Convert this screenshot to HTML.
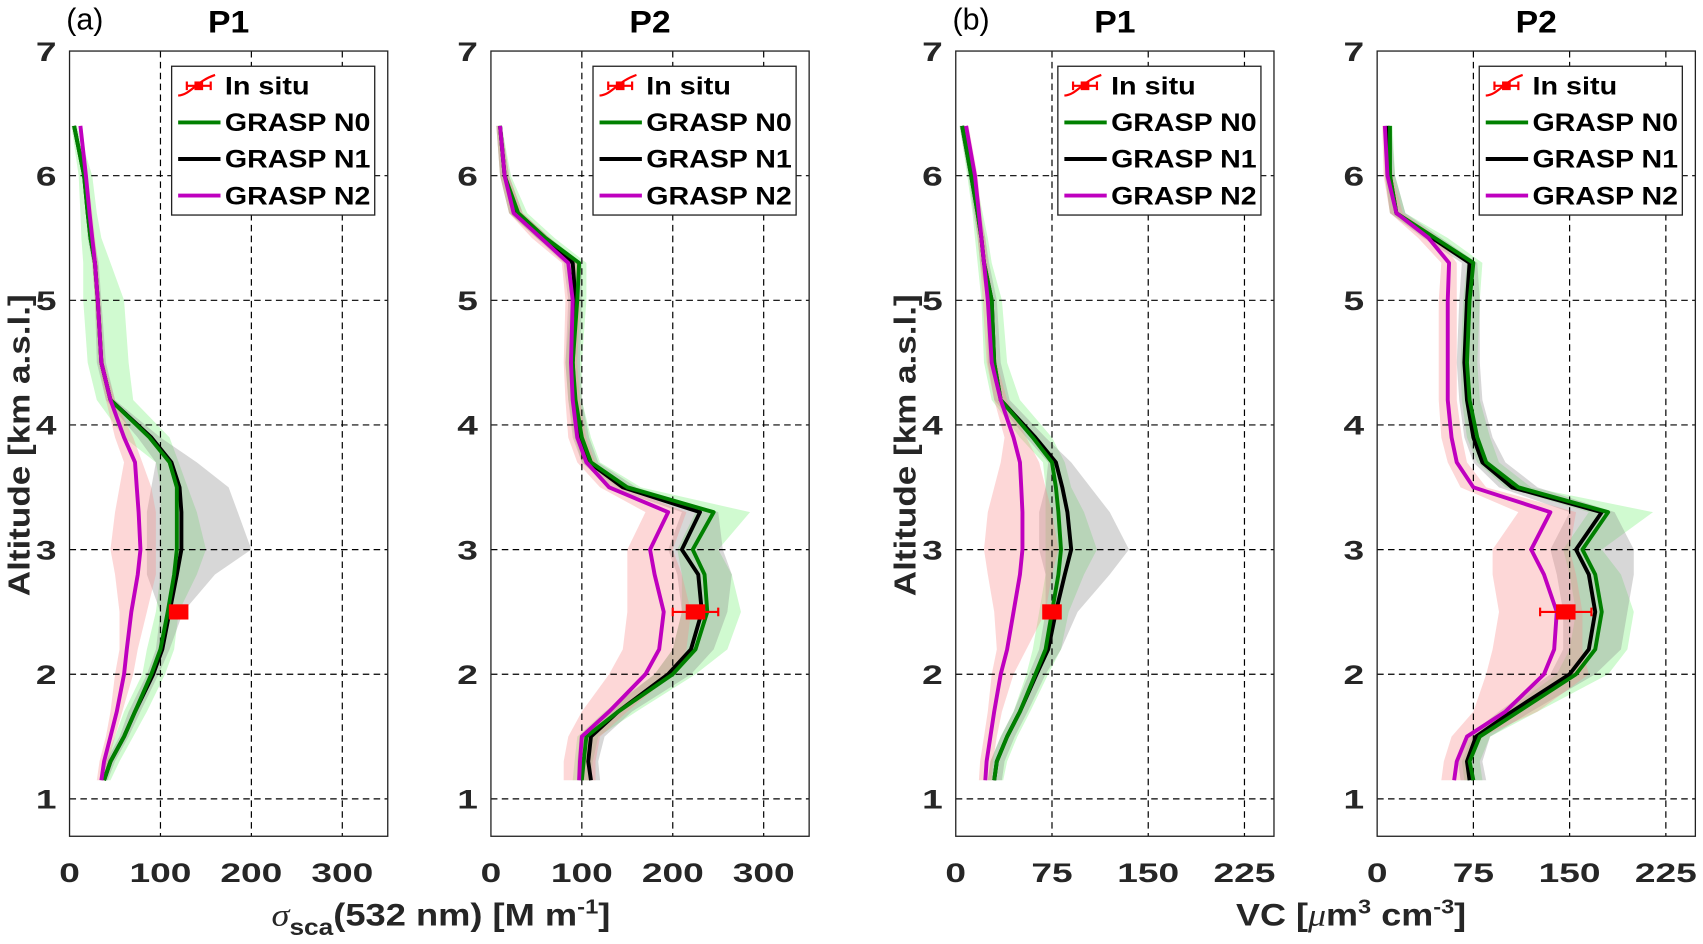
<!DOCTYPE html>
<html><head><meta charset="utf-8"><style>
html,body{margin:0;padding:0;background:#fff;}
svg{display:block;font-family:"Liberation Sans",sans-serif;}
</style></head><body>
<svg id="fig" width="1703" height="944" viewBox="0 0 1568 869.2" xmlns="http://www.w3.org/2000/svg"></svg>
<script>
const alt=[1.15,1.3,1.5,1.7,2.0,2.2,2.5,2.8,3.0,3.3,3.5,3.7,3.9,4.2,4.5,5.0,5.3,5.5,5.7,6.0,6.4];
// Panel a-P1 (scattering)
const p1N0=[38,45,60,72,90,100,108,115,118,118,118,110,88,45,35,31,28,23,20,16,5];
const p1N1=[38,45,60,72,92,102,110,118,123,123,121,112,90,45,35,31,28,23,20,16,5];
const p1N2=[35,38,45,52,60,63,68,75,78,76,74,72,60,45,35,31,28,25,22,18,12];
const p1N0lo=[33,38,50,60,80,85,95,100,100,100,100,95,60,30,20,15,15,13,12,10,2];
const p1N0hi=[45,55,70,85,105,115,120,140,150,140,130,120,110,70,65,60,45,35,30,25,8];
const p1N1lo=[35,40,55,65,85,95,100,85,85,85,90,95,75,40,30,28,25,20,18,14,4];
const p1N1hi=[42,50,65,78,98,110,125,160,200,185,175,140,100,50,40,35,32,27,23,19,7];
const p1N2lo=[30,33,40,45,50,55,55,50,45,50,55,60,50,40,32,28,25,22,20,16,10];
const p1N2hi=[40,43,50,58,70,75,85,95,95,95,90,80,70,50,38,34,31,28,25,20,14];
const p1Situ=[120,2.5,0];
// Panel a-P2
const p2N0=[100,102,105,140,200,225,238,235,222,245,150,110,100,93,90,95,97,60,30,15,10];
const p2N1=[110,107,110,140,195,220,232,228,210,230,145,108,98,92,90,93,90,58,28,15,10];
const p2N2=[97,98,100,130,170,185,190,180,175,195,130,105,95,90,88,90,85,55,25,15,10];
const p2N0lo=[90,92,95,125,180,200,210,210,205,225,140,100,92,85,82,88,90,50,20,10,6];
const p2N0hi=[110,112,118,160,225,260,275,265,250,285,165,120,110,100,100,105,105,70,40,22,12];
const p2N1lo=[95,95,98,128,180,200,210,205,195,210,130,100,90,85,82,85,80,50,20,10,6];
const p2N1hi=[120,118,125,155,220,245,260,265,255,250,160,118,108,100,98,100,100,65,35,20,12];
const p2N2lo=[80,80,85,100,130,145,150,150,150,170,120,95,85,82,80,82,78,45,20,10,6];
const p2N2hi=[115,115,120,150,200,215,220,210,200,215,145,115,105,98,95,98,95,65,35,20,12];
const p2Situ=[225,2.5,25];
// Panel b-P1 (VC)
const p3N0=[30,32,40,50,62,70,75,80,82,80,78,75,60,35,30,28,22,20,17,12,5];
const p3N1=[30,32,40,50,63,72,78,85,90,87,83,78,62,35,30,28,22,20,17,12,5];
const p3N2=[23,24,27,30,35,40,45,50,52,52,51,50,45,35,28,25,22,20,18,15,8];
const p3N0lo=[25,27,35,45,55,60,65,70,70,70,70,68,50,28,22,20,17,15,13,9,3];
const p3N0hi=[37,40,48,58,72,82,88,100,110,100,90,85,75,50,40,36,28,25,21,15,7];
const p3N1lo=[25,27,35,45,57,65,70,70,65,65,70,72,55,30,25,24,19,17,14,10,3];
const p3N1hi=[36,38,46,56,70,82,95,120,135,120,105,90,70,42,35,32,26,23,19,14,7];
const p3N2lo=[18,19,22,25,28,32,30,25,22,25,30,35,38,30,24,21,19,17,15,12,6];
const p3N2hi=[28,29,32,36,45,55,70,75,80,75,70,65,55,40,32,29,25,23,20,17,10];
const p3Situ=[75,2.5,0];
// Panel b-P2
const p4N0=[75,72,80,110,155,170,175,170,160,180,110,85,78,72,70,72,75,45,15,10,10];
const p4N1=[72,70,77,105,150,165,170,165,155,175,105,82,75,70,68,70,72,43,15,10,8];
const p4N2=[60,62,70,100,130,138,140,130,120,135,75,62,58,55,55,55,56,40,15,8,6];
const p4N0lo=[68,66,74,100,140,150,155,150,145,165,100,78,70,66,65,67,70,38,10,6,6];
const p4N0hi=[82,80,88,125,180,195,200,190,175,215,120,95,88,80,78,80,82,55,22,14,12];
const p4N1lo=[65,63,70,95,135,145,145,140,135,150,95,75,68,64,62,64,66,36,10,6,5];
const p4N1hi=[85,82,88,120,170,190,195,200,200,185,125,100,90,82,80,80,78,50,22,14,11];
const p4N2lo=[50,52,58,75,85,90,95,90,90,110,65,55,50,48,48,48,50,32,10,5,4];
const p4N2hi=[70,72,82,125,165,160,160,155,150,155,85,70,66,62,62,62,62,48,20,12,9];
const p4Situ=[147,2.5,20];
const sigTicks=[0,100,200,300];
const vcTicks=[0,75,150,225];
const altTicks=[1,2,3,4,5,6,7];

const NS='http://www.w3.org/2000/svg';
const svg=document.getElementById('fig');
function mk(tag,attrs,parent){const e=document.createElementNS(NS,tag);for(const k in attrs)e.setAttribute(k,attrs[k]);(parent||svg).appendChild(e);return e;}

const Y0=47,Y1=770,ymin=0.7,ymax=7;
function ys(v){return Y0+(ymax-v)/(ymax-ymin)*(Y1-Y0);}

const panels=[
 {id:'p1',left:64,xmax:350,ticks:sigTicks,title:'P1',n0:p1N0,n1:p1N1,n2:p1N2,b:[p1N0lo,p1N0hi,p1N1lo,p1N1hi,p1N2lo,p1N2hi],situ:p1Situ,ylab:true,tag:'(a)'},
 {id:'p2',left:452,xmax:350,ticks:sigTicks,title:'P2',n0:p2N0,n1:p2N1,n2:p2N2,b:[p2N0lo,p2N0hi,p2N1lo,p2N1hi,p2N2lo,p2N2hi],situ:p2Situ},
 {id:'p3',left:880,xmax:248,ticks:vcTicks,title:'P1',n0:p3N0,n1:p3N1,n2:p3N2,b:[p3N0lo,p3N0hi,p3N1lo,p3N1hi,p3N2lo,p3N2hi],situ:p3Situ,ylab:true,tag:'(b)'},
 {id:'p4',left:1268,xmax:248,ticks:vcTicks,title:'P2',n0:p4N0,n1:p4N1,n2:p4N2,b:[p4N0lo,p4N0hi,p4N1lo,p4N1hi,p4N2lo,p4N2hi],situ:p4Situ}
];
const W=293;
panels.forEach(p=>{
 const g=mk('g',{});
 
 
 const xs=v=>p.left+v/p.xmax*W;
 const bandCols=['rgba(110,240,110,0.32)','rgba(140,140,140,0.35)','rgba(250,140,140,0.35)'];
 const bandNames=['band-n0','band-n1','band-n2'];
 for(let s=0;s<3;s++){
  const lo=p.b[2*s],hi=p.b[2*s+1];
  let d='';
  alt.forEach((a,i)=>{d+=(i?'L':'M')+xs(lo[i]).toFixed(1)+','+ys(a).toFixed(1);});
  for(let i=alt.length-1;i>=0;i--)d+='L'+xs(hi[i]).toFixed(1)+','+ys(alt[i]).toFixed(1);
  const e=mk('path',{d:d+'Z',fill:bandCols[s],stroke:'none'},g);
  
  
 }
 p.ticks.forEach(t=>{if(t>0){const e=mk('line',{x1:xs(t),x2:xs(t),y1:Y0,y2:Y1,stroke:'#000','stroke-width':1.1,'stroke-dasharray':'6,4'},g);
  }});
 altTicks.forEach(t=>{if(t<7){const e=mk('line',{x1:p.left,x2:p.left+W,y1:ys(t),y2:ys(t),stroke:'#000','stroke-width':1.1,'stroke-dasharray':'6,4'},g);
  }});
 const series=[[p.n1,'#000','line-n1'],[p.n0,'#008000','line-n0'],[p.n2,'#bf00bf','line-n2']];
 series.forEach(([v,c,n])=>{
  let d='';alt.forEach((a,i)=>{d+=(i?'L':'M')+xs(v[i]).toFixed(1)+','+ys(a).toFixed(1);});
  const e=mk('path',{d:d,fill:'none',stroke:c,'stroke-width':3.6,'stroke-linejoin':'round'},g);
  
  
 });
 const [sx,sy,se]=p.situ;
 if(se>0){
  const e=mk('path',{d:`M${xs(sx-se)},${ys(sy)}H${xs(sx+se)}M${xs(sx-se)},${ys(sy)-4}v8M${xs(sx+se)},${ys(sy)-4}v8`,stroke:'#f00','stroke-width':2,fill:'none'},g);
  
 }
 const sq=mk('rect',{x:xs(sx)-9,y:ys(sy)-7,width:18,height:14,fill:'#f00'},g);
 
 
 const bx=mk('rect',{x:p.left,y:Y0,width:W,height:Y1-Y0,fill:'none',stroke:'#222','stroke-width':1.2},g);
 
 p.ticks.forEach(t=>{const s=String(t);const e=mk('text',{x:xs(t),y:812,'text-anchor':'middle','font-size':25,'font-weight':'bold',fill:'#262626',textLength:s.length*19,lengthAdjust:'spacingAndGlyphs'},g);e.textContent=s;
  });
 altTicks.forEach(t=>{const e=mk('text',{x:p.left-12,y:ys(t)+9,'text-anchor':'end','font-size':25,'font-weight':'bold',fill:'#262626',textLength:19,lengthAdjust:'spacingAndGlyphs'},g);e.textContent=t;
  });
 const tt=mk('text',{x:p.left+W/2,y:30,'text-anchor':'middle','font-size':29,'font-weight':'bold',fill:'#000',textLength:38,lengthAdjust:'spacingAndGlyphs'},g);
 tt.textContent=p.title;
 if(p.tag){const e=mk('text',{x:p.left-3,y:27,'font-size':28,fill:'#000'},g);e.textContent=p.tag;
  }
 if(p.ylab){const e=mk('text',{x:0,y:0,transform:`translate(${p.left-37},410) rotate(-90)`,'text-anchor':'middle','font-size':28,'font-weight':'bold',fill:'#262626',textLength:278,lengthAdjust:'spacingAndGlyphs'},g);
  e.textContent='Altitude [km a.s.l.]';}
 const lx=p.left+W-199, ly=61;
 const lg=mk('g',{},g);
 
 mk('rect',{x:lx,y:ly,width:187,height:137,fill:'#fff',stroke:'#222','stroke-width':1.2},lg);
 const ents=[['In situ','#f00',78],['GRASP N0','#008000',134],['GRASP N1','#000',134],['GRASP N2','#bf00bf',134]];
 ents.forEach(([lab,c,tl],i)=>{
  const yy=ly+18+i*33.7;
  if(i==0){
   mk('path',{d:`M${lx+6},${yy+9}C${lx+18},${yy+8} ${lx+22},${yy-4} ${lx+40},${yy-10}`,stroke:'#f00','stroke-width':2,fill:'none'},lg);
   mk('path',{d:`M${lx+14},${yy}H${lx+36}M${lx+14},${yy-4}v8M${lx+36},${yy-4}v8`,stroke:'#f00','stroke-width':2},lg);
   mk('rect',{x:lx+21,y:yy-4,width:8,height:8,fill:'#f00'},lg);
  } else mk('line',{x1:lx+6,x2:lx+45,y1:yy,y2:yy,stroke:c,'stroke-width':3.6},lg);
  const e=mk('text',{x:lx+49,y:yy+8,'font-size':23,'font-weight':'bold',fill:'#000',textLength:tl,lengthAdjust:'spacingAndGlyphs'},lg);e.textContent=lab;
  
 });
});
let t1=mk('text',{x:406,y:852,'text-anchor':'middle','font-size':29,'font-weight':'bold',fill:'#262626',textLength:312,lengthAdjust:'spacingAndGlyphs'});

t1.innerHTML='<tspan font-family="Liberation Serif" font-style="italic" font-weight="normal">σ</tspan><tspan font-size="21" dy="9">sca</tspan><tspan dy="-9">(532 nm) [M m</tspan><tspan font-size="19" dy="-11">-1</tspan><tspan dy="11">]</tspan>';
let t2=mk('text',{x:1244,y:852,'text-anchor':'middle','font-size':29,'font-weight':'bold',fill:'#262626',textLength:212,lengthAdjust:'spacingAndGlyphs'});

t2.innerHTML='VC [<tspan font-family="Liberation Serif" font-style="italic" font-weight="normal">μ</tspan>m<tspan font-size="19" dy="-11">3</tspan><tspan dy="11"> cm</tspan><tspan font-size="19" dy="-11">-3</tspan><tspan dy="11">]</tspan>';
</script>
</body></html>
